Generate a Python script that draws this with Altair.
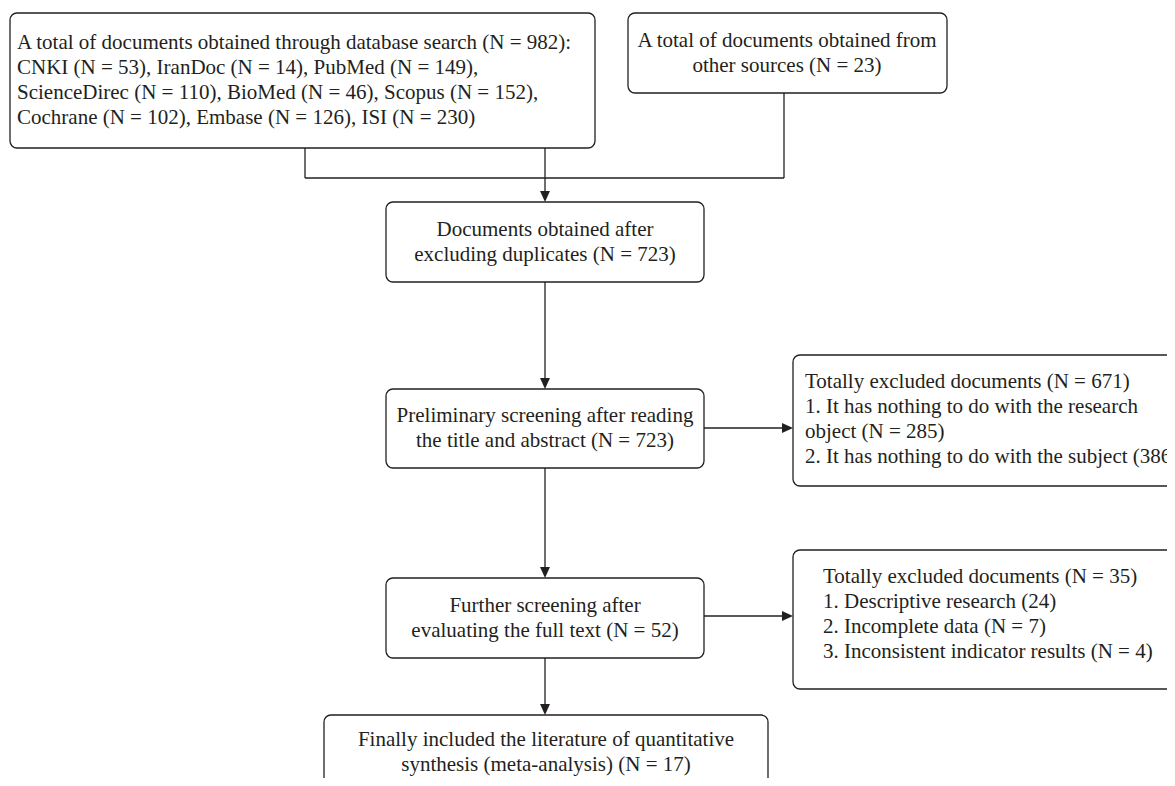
import altair as alt
import pandas as pd

# ---- content ----
centered_texts = [
    "A total of documents obtained from\nother sources (N = 23)",
    "Documents obtained after\nexcluding duplicates (N = 723)",
    "Preliminary screening after reading\nthe title and abstract (N = 723)",
    "Further screening after\nevaluating the full text (N = 52)",
    "Finally included the literature of quantitative\nsynthesis (meta-analysis) (N = 17)",
]
left_texts = [
    "A total of documents obtained through database search (N = 982):\nCNKI (N = 53), IranDoc (N = 14), PubMed (N = 149),\nScienceDirec (N = 110), BioMed (N = 46), Scopus (N = 152),\nCochrane (N = 102), Embase (N = 126), ISI (N = 230)",
    "Totally excluded documents (N = 671)\n1. It has nothing to do with the research\nobject (N = 285)\n2. It has nothing to do with the subject (386)",
    "Totally excluded documents (N = 35)\n1. Descriptive research (24)\n2. Incomplete data (N = 7)\n3. Inconsistent indicator results (N = 4)",
]

# ---- layout (screen pixel coordinates) ----
box_x1 = [10, 628, 386, 386, 793, 386, 793, 324]
box_x2 = [595, 947, 704, 704, 1250, 704, 1250, 768]
box_y1 = [13, 13, 202, 389, 355, 578, 550, 715]
box_y2 = [148, 93, 282, 468, 486, 658, 689, 820]

# first-line positions of each text block
c_x = [787, 545, 545, 545, 546]
c_y = [41, 230, 416, 606, 740]
l_x = [17, 805, 823]
l_y = [43, 382, 577]

seg_x1 = [305, 305, 784, 545, 545, 704, 545, 704, 545]
seg_y1 = [148, 178, 93, 148, 282, 428, 468, 616, 658]
seg_x2 = [305, 784, 784, 545, 545, 790, 545, 790, 545]
seg_y2 = [178, 178, 178, 198, 385, 428, 574, 616, 711]

down_x = [545, 545, 545, 545]
down_y = [202, 389, 578, 715]
right_x = [793, 793]
right_y = [428, 616]

INK = "#231f20"
FONT = "Liberation Serif"
FS = 21
LH = 25

X = alt.Scale(domain=[8, 1167], nice=False, zero=False)
Y = alt.Scale(domain=[8, 778], nice=False, zero=False, reverse=True)


def xe(f):
    return alt.X(f, type="quantitative", scale=X, axis=None)


def ye(f):
    return alt.Y(f, type="quantitative", scale=Y, axis=None)


boxes = pd.DataFrame({"x1": box_x1, "x2": box_x2, "y1": box_y1, "y2": box_y2})
segs = pd.DataFrame({"x1": seg_x1, "y1": seg_y1, "x2": seg_x2, "y2": seg_y2})
ctext = pd.DataFrame({"t": centered_texts, "x": c_x, "y": c_y})
ltext = pd.DataFrame({"t": left_texts, "x": l_x, "y": l_y})
downs = pd.DataFrame({"x": down_x, "y": down_y})
rights = pd.DataFrame({"x": right_x, "y": right_y})

rect_layer = alt.Chart(boxes).mark_rect(
    fill="white", stroke=INK, strokeWidth=1.3, cornerRadius=7, clip=True
).encode(x=xe("x1"), x2="x2", y=ye("y1"), y2="y2")

rule_layer = alt.Chart(segs).mark_rule(color=INK, strokeWidth=1.3).encode(
    x=xe("x1"), x2="x2", y=ye("y1"), y2="y2"
)

down_layer = alt.Chart(downs).mark_point(
    shape="M-0.45,-1L0.45,-1L0,0Z", filled=True, color=INK, opacity=1, size=484
).encode(x=xe("x"), y=ye("y"))

right_layer = alt.Chart(rights).mark_point(
    shape="M-1,-0.45L-1,0.45L0,0Z", filled=True, color=INK, opacity=1, size=484
).encode(x=xe("x"), y=ye("y"))

ctext_layer = alt.Chart(ctext).mark_text(
    font=FONT, fontSize=FS, lineHeight=LH, lineBreak="\n", align="center",
    baseline="middle", color=INK, clip=True
).encode(x=xe("x"), y=ye("y"), text="t:N")

ltext_layer = alt.Chart(ltext).mark_text(
    font=FONT, fontSize=FS, lineHeight=LH, lineBreak="\n", align="left",
    baseline="middle", color=INK, clip=True
).encode(x=xe("x"), y=ye("y"), text="t:N")

chart = alt.layer(
    rule_layer, rect_layer, down_layer, right_layer, ctext_layer, ltext_layer
).properties(
    width=1159, height=770, padding=0, autosize=alt.AutoSizeParams(type="none"),
    background="white"
).configure_view(stroke=None)

chart.save("out.html", embed_options={"renderer": "svg", "actions": False})
